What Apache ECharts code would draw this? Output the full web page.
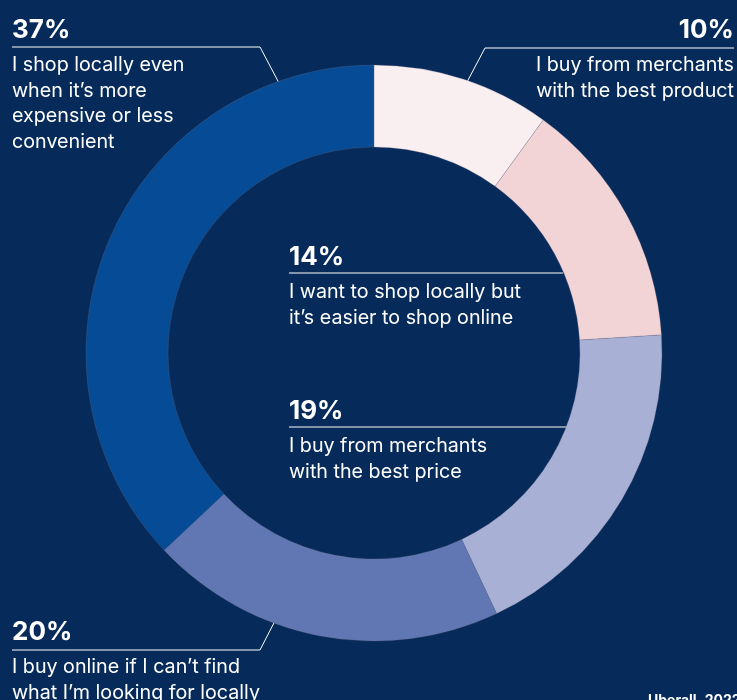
<!DOCTYPE html>
<html>
<head>
<meta charset="utf-8">
<script src="https://cdn.jsdelivr.net/npm/echarts@6/dist/echarts.min.js"></script>
<style>
html, body { margin: 0; padding: 0; background: #062b5b; }
#chart { width: 737px; height: 700px; }
</style>
</head>
<body>
<div id="chart"></div>
<script>
// answers, clockwise from 12 o'clock
var answers = [
  'I buy from merchants\nwith the best product',
  'I want to shop locally but\nit\u2019s easier to shop online',
  'I buy from merchants\nwith the best price',
  'I buy online if I can\u2019t find\nwhat I\u2019m looking for locally',
  'I shop locally even\nwhen it\u2019s more\nexpensive or less\nconvenient'
];
var shares = [10, 14, 19, 20, 37];
var sliceColors = ['#f9eff1', '#f2d3d6', '#a8b0d6', '#6077b3', '#054b96'];

// where each label sits and how its leader line runs (x, y = label top-left / top-right)
var spots = [
  { x: 734, y: 8, align: 'right', line: [[467, 82], [485, 48], [734, 48]] },
  { x: 289, y: 235, align: 'left', line: [[563, 273], [560, 273], [289, 273]] },
  { x: 289, y: 389, align: 'left', line: [[575, 427], [570, 427], [289, 427]] },
  { x: 12, y: 610, align: 'left', line: [[278, 615], [260, 650], [12, 650]] },
  { x: 12, y: 8, align: 'left', line: [[279, 83], [260, 47], [12, 47]] }
];

var FONT = 'Inter, "Noto Sans", sans-serif';

function richFor(align) {
  return {
    p: { fontSize: 26, fontWeight: 'bold', lineHeight: 44, color: '#fff', fontFamily: FONT, align: align },
    t: { fontSize: 19.7, lineHeight: 25.8, color: '#fff', fontFamily: FONT, align: align }
  };
}

var pieData = shares.map(function (v, i) {
  return {
    value: v,
    name: answers[i],
    itemStyle: { color: sliceColors[i] },
    label: { align: spots[i].align, rich: richFor(spots[i].align) }
  };
});

var chart = echarts.init(document.getElementById('chart'));
chart.setOption({
  backgroundColor: '#062b5b',
  animation: false,
  series: [{
    type: 'pie',
    center: [374, 353],
    radius: [206, 288],
    startAngle: 90,
    clockwise: true,
    avoidLabelOverlap: false,
    itemStyle: { borderColor: 'rgba(120,110,130,0.5)', borderWidth: 0.5 },
    emphasis: { disabled: true },
    label: {
      show: true,
      position: 'outside',
      formatter: function (p) {
        var lines = p.name.split('\n').map(function (s) { return '{t|' + s + '}'; });
        return '{p|' + p.value + '%}\n' + lines.join('\n');
      }
    },
    labelLine: { show: true, lineStyle: { color: '#ffffff', width: 1 } },
    labelLayout: function (params) {
      var s = spots[params.dataIndex];
      return {
        x: s.x,
        y: s.y,
        align: s.align,
        verticalAlign: 'top',
        labelLinePoints: s.line
      };
    },
    data: pieData
  }],
  graphic: [{
    type: 'text',
    left: 648,
    top: 694,
    style: { text: 'Uberall, 2022', fill: '#fff', font: 'bold 14px ' + FONT }
  }]
});
</script>
</body>
</html>
